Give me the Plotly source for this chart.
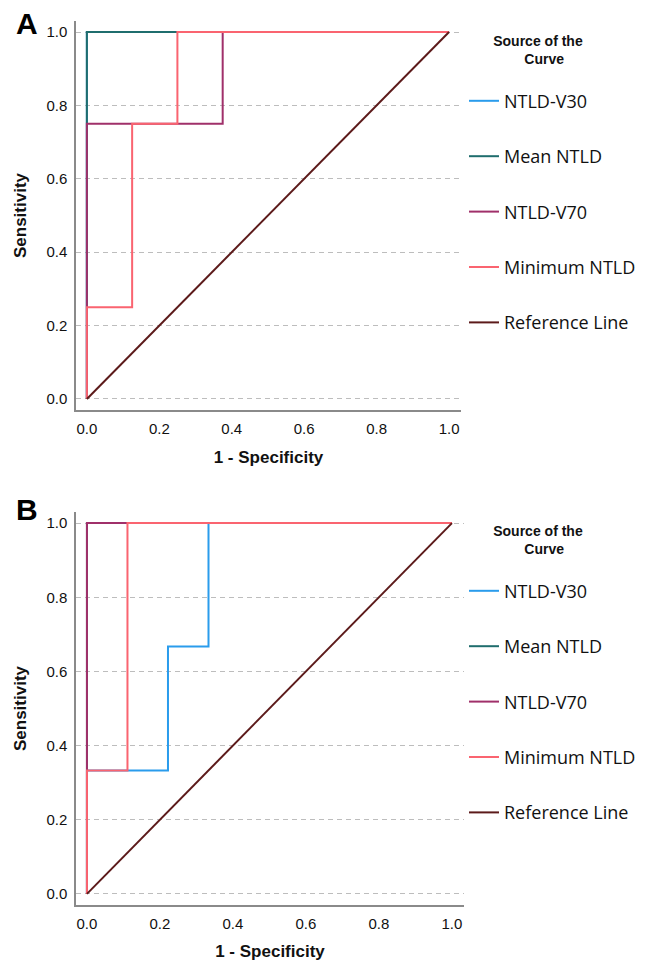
import plotly.graph_objects as go

# ---------------- data ----------------
series_names = ["NTLD-V30", "Mean NTLD", "NTLD-V70", "Minimum NTLD", "Reference Line"]
series_colors = ["#2a9cec", "#1f6d6d", "#a0306a", "#fa6470", "#5c1a1a"]

# Panel A (1 - specificity, sensitivity)
a_v30_x = [0, 0, 0, 1]
a_v30_y = [0, 0.75, 1, 1]
a_mean_x = [0, 0, 0, 1]
a_mean_y = [0, 0.75, 1, 1]
a_v70_x = [0, 0, 0.375, 0.375, 1]
a_v70_y = [0, 0.75, 0.75, 1, 1]
a_min_x = [0, 0, 0.125, 0.125, 0.25, 0.25, 1]
a_min_y = [0, 0.25, 0.25, 0.75, 0.75, 1, 1]
ref_x = [0, 1]
ref_y = [0, 1]

# Panel B
b_v30_x = [0, 0, 0.222, 0.222, 0.333, 0.333, 1]
b_v30_y = [0, 0.333, 0.333, 0.667, 0.667, 1, 1]
b_mean_x = [0, 0, 1]
b_mean_y = [0, 1, 1]
b_v70_x = [0, 0, 1]
b_v70_y = [0, 1, 1]
b_min_x = [0, 0, 0.111, 0.111, 1]
b_min_y = [0, 0.333, 0.333, 1, 1]

tick_vals = [0, 0.2, 0.4, 0.6, 0.8, 1.0]
tick_text = ["0.0", "0.2", "0.4", "0.6", "0.8", "1.0"]

panels = [
    ("A", "x", "y", "legend", [(a_v30_x, a_v30_y), (a_mean_x, a_mean_y), (a_v70_x, a_v70_y), (a_min_x, a_min_y), (ref_x, ref_y)]),
    ("B", "x2", "y2", "legend2", [(b_v30_x, b_v30_y), (b_mean_x, b_mean_y), (b_v70_x, b_v70_y), (b_min_x, b_min_y), (ref_x, ref_y)]),
]

fig = go.Figure()
for label, xa, ya, leg, data in panels:
    for i, (xs, ys) in enumerate(data):
        fig.add_trace(go.Scatter(
            x=xs, y=ys, mode="lines", name=series_names[i],
            line=dict(color=series_colors[i], width=2),
            xaxis=xa, yaxis=ya, legend=leg,
            legendgroup=f"{label}{i}", hoverinfo="skip",
        ))

W, H = 650, 961
ML, MR, MT, MB = 76, 186, 21, 56
PW = W - ML - MR
PH = H - MT - MB

def py(p):  # pixel y -> paper y
    return (H - MB - p) / PH

def px(p):
    return (p - ML) / PW

tick_font = dict(family="Liberation Sans, Arial", size=15, color="#111")
title_font = dict(family="Liberation Sans, Arial", size=17, color="#111")

common_x = dict(range=[-0.03, 1.033], tickvals=tick_vals, ticktext=tick_text,
                showgrid=False, zeroline=False, showline=True, linecolor="#8a8a8a",
                linewidth=1.5, ticks="outside", ticklen=4, tickcolor="rgba(0,0,0,0)",
                tickfont=tick_font, fixedrange=True, automargin=False)
common_y = dict(range=[-0.03, 1.03], tickvals=tick_vals, ticktext=tick_text,
                showgrid=True, gridcolor="#bdbdbd", griddash="5px,4px", gridwidth=1,
                zeroline=False, showline=True, linecolor="#8a8a8a", linewidth=1.5,
                ticks="outside", ticklen=4, tickcolor="rgba(0,0,0,0)",
                tickfont=tick_font, fixedrange=True, automargin=False)

pad1 = "&nbsp;" * 7
pad2 = "&nbsp;" * 15
legend_common = dict(
    xanchor="left", yanchor="top",
    font=dict(family="Open Sans", size=18, color="#111"),
    tracegroupgap=29, bgcolor="rgba(0,0,0,0)",
    title=dict(text=f"<b>{pad1}Source of the<br>{pad2}Curve</b><br> ", side="top",
               font=dict(family="Liberation Sans, Arial", size=14, color="#111")),
)

fig.update_layout(
    width=W, height=H,
    margin=dict(l=ML, r=MR, t=MT, b=MB, autoexpand=False),
    paper_bgcolor="white", plot_bgcolor="white",
    xaxis=dict(domain=[0, 385 / PW], anchor="y",
               title=dict(text="<b>1 - Specificity</b>", font=title_font),
               **common_x),
    yaxis=dict(domain=[py(410), 1], anchor="x",
               title=dict(text="<b>Sensitivity</b>", font=title_font),
               **common_y),
    xaxis2=dict(domain=[0, 1], anchor="y2",
                title=dict(text="<b>1 - Specificity</b>", font=title_font),
                **common_x),
    yaxis2=dict(domain=[0, py(512)], anchor="x2",
                title=dict(text="<b>Sensitivity</b>", font=title_font),
                **common_y),
    legend=dict(x=px(464), y=py(28), **legend_common),
    legend2=dict(x=px(464), y=py(518), **legend_common),
    showlegend=True,
    annotations=[
        dict(text="<b>A</b>", x=px(27), y=py(24), xref="paper", yref="paper",
             xanchor="center", yanchor="middle",
             showarrow=False, font=dict(family="Liberation Sans, Arial", size=30, color="#000")),
        dict(text="<b>B</b>", x=px(27), y=py(509), xref="paper", yref="paper",
             xanchor="center", yanchor="middle",
             showarrow=False, font=dict(family="Liberation Sans, Arial", size=30, color="#000")),
    ],
)

fig.write_html("out.html", config={"displayModeBar": False},
               post_script="document.body.style.margin='0px';document.body.style.overflow='hidden';")
